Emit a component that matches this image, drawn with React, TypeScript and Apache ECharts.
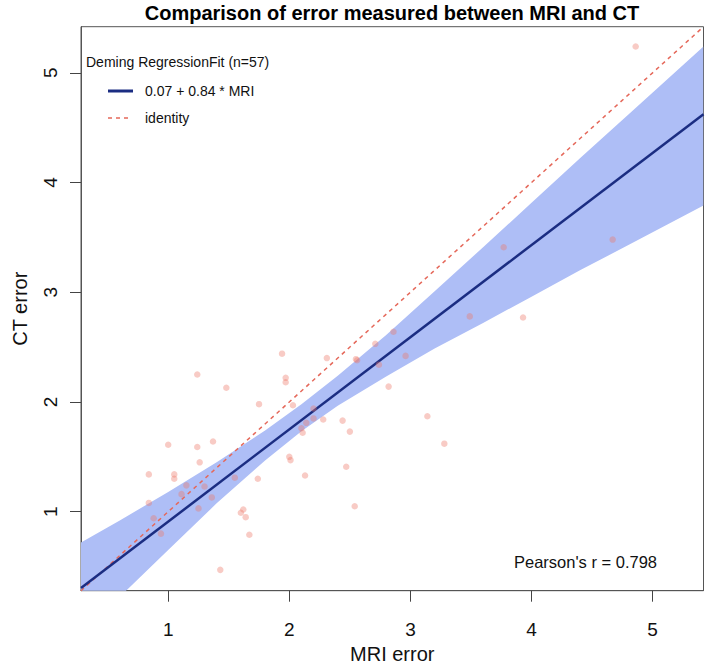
import React, { useEffect, useRef } from "react";
import * as echarts from "echarts";

// ---- data ----
const mriError = [
  1.94, 2.31, 1.24, 1.48, 1.97, 1.97, 1.75, 2.03, 2.2, 2.28,
  2.2, 2.14, 2.1, 2.11, 1.0, 1.24, 1.37, 1.26, 2.0, 2.01,
  0.84, 1.05, 1.05, 2.13, 1.55, 1.74, 1.15, 1.3, 1.11, 1.36,
  0.84, 1.25, 0.88, 1.62, 1.6, 1.64, 0.94, 1.67, 1.43, 3.49,
  3.93, 2.86, 2.71, 2.55, 2.56, 2.96, 2.74, 2.82, 2.44, 2.5,
  2.47, 3.14, 3.28, 2.54, 4.86, 3.77, 4.67,
];
const ctError = [
  2.44, 2.4, 2.25, 2.13, 2.22, 2.18, 1.98, 1.97, 1.94, 1.84,
  1.85, 1.81, 1.76, 1.72, 1.61, 1.59, 1.64, 1.45, 1.5, 1.47,
  1.34, 1.34, 1.3, 1.33, 1.31, 1.3, 1.24, 1.23, 1.16, 1.13,
  1.08, 1.03, 0.94, 1.02, 0.99, 0.95, 0.8, 0.79, 0.47, 2.78,
  2.77, 2.64, 2.53, 2.39, 2.38, 2.42, 2.34, 2.14, 1.83, 1.73,
  1.41, 1.87, 1.62, 1.05, 5.24, 3.41, 3.48,
];

// fitted Deming line endpoints (0.07 + 0.84 * MRI)
const fitX = [0.28, 5.42];
const fitY = [0.305, 4.623];

// identity line endpoints
const identityX = [0.28, 5.42];
const identityY = [0.28, 5.42];

// confidence band
const bandX = [0.28, 0.6, 1.0, 1.4, 1.8, 2.1, 2.4, 2.8, 3.2, 3.6, 4.0, 4.4, 4.8, 5.42];
const bandUpper = [0.72, 0.92, 1.18, 1.45, 1.74, 1.98, 2.24, 2.61, 3.01, 3.41, 3.815, 4.22, 4.62, 5.24];
const bandLower = [-0.145, 0.224, 0.65, 1.076, 1.467, 1.734, 1.966, 2.232, 2.488, 2.72, 2.96, 3.2, 3.43, 3.79];

const xTicks = [1, 2, 3, 4, 5];
const yTicks = [1, 2, 3, 4, 5];

const AXIS_MIN = 0.28;
const AXIS_MAX = 5.42;

const FONT = "'Liberation Sans', Arial, sans-serif";

export default function App() {
  const ref = useRef<HTMLDivElement>(null);

  useEffect(() => {
    if (!ref.current) return;
    const chart = echarts.init(ref.current, null, { renderer: "svg" });

    const points = mriError.map((x, i) => [x, ctError[i]]);
    const bandData = bandX.map((x, i) => [x, bandLower[i], bandUpper[i]]);

    const axisCommon = {
      type: "value" as const,
      min: AXIS_MIN,
      max: AXIS_MAX,
      splitLine: { show: false },
      axisLine: { show: true, lineStyle: { color: "#555", width: 1 } },
      nameLocation: "middle" as const,
      nameTextStyle: { fontFamily: FONT, fontSize: 20, color: "#111" },
    };

    chart.setOption({
      animation: false,
      backgroundColor: "#fff",
      grid: {
        left: 81,
        right: 5.5,
        top: 26.7,
        bottom: 73.3,
        show: true,
        borderColor: "#555",
        borderWidth: 1,
        containLabel: false,
        outerBoundsMode: "none",
      },
      xAxis: {
        ...axisCommon,
        name: "MRI error",
        nameGap: 47,
        axisTick: {
          show: true,
          length: 11,
          customValues: xTicks,
          lineStyle: { color: "#444" },
        },
        axisLabel: {
          customValues: xTicks,
          fontFamily: FONT,
          fontSize: 19,
          color: "#111",
          margin: 29,
        },
      },
      yAxis: {
        ...axisCommon,
        name: "CT error",
        nameGap: 51,
        axisTick: {
          show: true,
          length: 11,
          customValues: yTicks,
          lineStyle: { color: "#444" },
        },
        axisLabel: {
          customValues: yTicks,
          rotate: 90,
          fontFamily: FONT,
          fontSize: 19,
          color: "#111",
          margin: 21,
        },
      },
      series: [
        {
          type: "custom",
          name: "band",
          data: bandData,
          silent: true,
          z: 1,
          encode: { x: 0, y: [1, 2] },
          renderItem: (params: any, api: any) => {
            if (params.dataIndex !== 0) return null;
            const upperPts = bandData.map((d) => api.coord([d[0], d[2]]));
            const lowerPts = bandData
              .slice()
              .reverse()
              .map((d) => api.coord([d[0], d[1]]));
            const cs = params.coordSys;
            return {
              type: "polygon",
              shape: { points: upperPts.concat(lowerPts) },
              style: { fill: "#aebef6" },
              clipPath: {
                type: "rect",
                shape: { x: cs.x, y: cs.y, width: cs.width, height: cs.height },
              },
            };
          },
        },
        {
          type: "line",
          name: "identity",
          data: identityX.map((x, i) => [x, identityY[i]]),
          symbol: "none",
          lineStyle: { color: "#e5685a", width: 1.5, type: [4, 4] },
          z: 3,
        },
        {
          type: "line",
          name: "fit",
          data: fitX.map((x, i) => [x, fitY[i]]),
          symbol: "none",
          lineStyle: { color: "#1b2d82", width: 2.5 },
          z: 4,
        },
        {
          type: "scatter",
          name: "points",
          data: points,
          symbol: "circle",
          symbolSize: 6.5,
          itemStyle: { color: "rgba(238,120,105,0.48)" },
          z: 5,
        },
      ],
      graphic: [
        {
          type: "text",
          x: 392,
          y: 13,
          style: {
            text: "Comparison of error measured between MRI and CT",
            fontFamily: FONT,
            fontWeight: "bold",
            fontSize: 20,
            fill: "#000",
            textAlign: "center",
            textVerticalAlign: "middle",
          },
        },
        {
          type: "text",
          x: 86,
          y: 62,
          style: {
            text: "Deming RegressionFit (n=57)",
            fontFamily: FONT,
            fontSize: 14,
            fill: "#111",
            textVerticalAlign: "middle",
          },
        },
        {
          type: "line",
          shape: { x1: 108, y1: 91, x2: 133, y2: 91 },
          style: { stroke: "#1b2d82", lineWidth: 3 },
        },
        {
          type: "text",
          x: 145,
          y: 91,
          style: {
            text: "0.07 + 0.84 * MRI",
            fontFamily: FONT,
            fontSize: 14,
            fill: "#111",
            textVerticalAlign: "middle",
          },
        },
        {
          type: "line",
          shape: { x1: 108, y1: 118, x2: 131, y2: 118 },
          style: { stroke: "#e5685a", lineWidth: 1.5, lineDash: [4, 4] },
        },
        {
          type: "text",
          x: 145,
          y: 118,
          style: {
            text: "identity",
            fontFamily: FONT,
            fontSize: 14,
            fill: "#111",
            textVerticalAlign: "middle",
          },
        },
        {
          type: "text",
          x: 657,
          y: 562,
          style: {
            text: "Pearson's r = 0.798",
            fontFamily: FONT,
            fontSize: 16.5,
            fill: "#111",
            textAlign: "right",
            textVerticalAlign: "middle",
          },
        },
      ],
    });

    return () => {
      chart.dispose();
    };
  }, []);

  return (
    <div
      ref={ref}
      style={{ position: "absolute", left: 0, top: 0, width: 709, height: 664 }}
    />
  );
}
